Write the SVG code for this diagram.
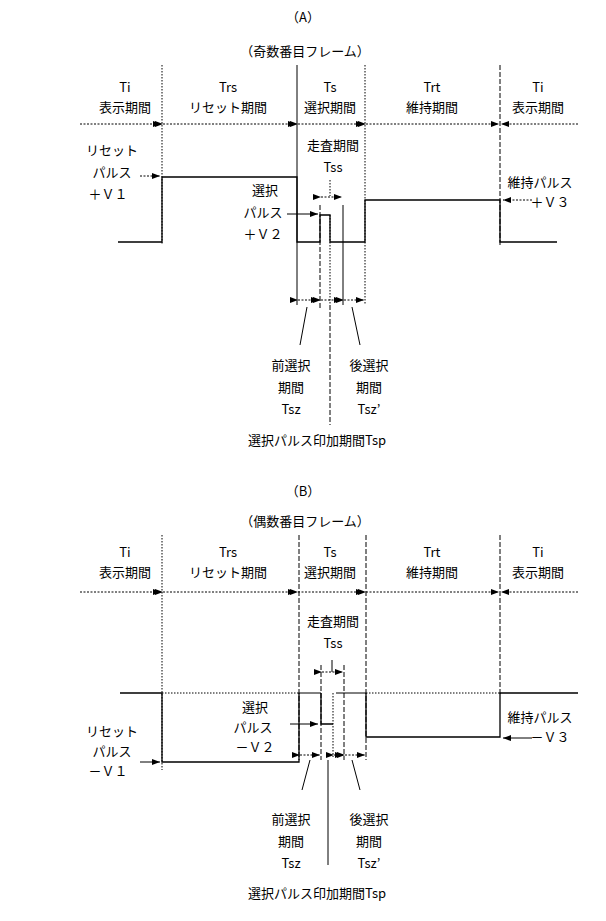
<svg xmlns="http://www.w3.org/2000/svg" width="606" height="921" viewBox="0 0 606 921">
<defs>
<marker id="ar" markerWidth="8" markerHeight="6" refX="8" refY="3" orient="auto" markerUnits="userSpaceOnUse"><path d="M0,0 L8,3 L0,6 Z" fill="#000"/></marker>
</defs>
<style>
text{font-family:"Noto Sans CJK JP","Noto Sans",sans-serif;font-size:13px;fill:#000;text-anchor:middle}
.s{stroke:#000;stroke-width:1.3;fill:none}
.t{stroke:#000;stroke-width:1;fill:none}
.d{stroke:#000;stroke-width:1;stroke-dasharray:1.5 1.5;fill:none}
.da{stroke:#000;stroke-width:1;stroke-dasharray:5 2;fill:none}
.a{stroke:#000;stroke-width:1;stroke-dasharray:2 1.5;fill:none;marker-end:url(#ar);marker-start:url(#ar)}
.a1{stroke:#000;stroke-width:1;stroke-dasharray:2 1.5;fill:none;marker-end:url(#ar)}
.as{stroke:#000;stroke-width:1;fill:none;marker-end:url(#ar)}
</style>
<g id="partA">
<text x="303" y="22">（A）</text>
<text x="305" y="56">（奇数番目フレーム）</text>
<g id="headersA">
<text x="125" y="92">Ti</text><text x="125" y="112">表示期間</text>
<text x="228" y="92">Trs</text><text x="228" y="112">リセット期間</text>
<text x="330" y="92">Ts</text><text x="330" y="112">選択期間</text>
<text x="432" y="92">Trt</text><text x="432" y="112">維持期間</text>
<text x="538" y="92">Ti</text><text x="538" y="112">表示期間</text>
</g>
<g id="connectorsA">
<path class="a1" d="M80,124 H161"/>
<path class="a" d="M163,124 H296"/>
<path class="a" d="M298,124 H364"/>
<path class="a" d="M366,124 H499"/>
<path class="a1" d="M578,124 H501"/>
<path class="d" d="M162,65 V245"/>
<path class="t" d="M297,65 V305"/>
<path class="d" d="M365,65 V305"/>
<path class="da" d="M500,65 V245"/>
<path class="da" d="M320,205 V310"/>
<path class="t" d="M343,205 V305"/>
<path class="d" d="M330,215 V305"/>
<path class="d" d="M330,180 V196"/>
<path class="a" d="M321,197 H342"/>
<path class="a" d="M298,300 H319"/>
<path class="a" d="M321,300 H342"/>
<path class="a" d="M344,300 H364"/>
<path class="t" d="M307,307 L300,345"/>
<path class="da" d="M330,305 V425"/>
<path class="t" d="M352,307 L360,345"/>
<path class="a1" d="M140,176 H160"/>
<path class="as" d="M287,214 H318"/>
<path class="a1" d="M532,200 H503"/>
</g>
<g id="waveA">
<path class="s" d="M118,242 H162 V177 H297 V242 H320 V215 H330 V242 H365 V200 H500 V242 H557"/>
</g>
<g id="labelsA">
<text x="112" y="155">リセット</text><text x="112" y="177">パルス</text><text x="108" y="199">＋Ｖ１</text>
<text x="265" y="195">選択</text><text x="263" y="217">パルス</text><text x="263" y="239">＋Ｖ２</text>
<text x="333" y="150">走査期間</text><text x="333" y="172">Tss</text>
<text x="540" y="187">維持パルス</text><text x="550" y="207">＋Ｖ３</text>
<text x="291" y="370">前選択</text><text x="291" y="392">期間</text><text x="291" y="414">Tsz</text>
<text x="369" y="370">後選択</text><text x="369" y="392">期間</text><text x="369" y="414">Tsz’</text>
<text x="317" y="445">選択パルス印加期間Tsp</text>
</g>
</g>
<g id="partB">
<text x="303" y="496">（B）</text>
<text x="305" y="526">（偶数番目フレーム）</text>
<g id="headersB">
<text x="125" y="557">Ti</text><text x="125" y="577">表示期間</text>
<text x="228" y="557">Trs</text><text x="228" y="577">リセット期間</text>
<text x="330" y="557">Ts</text><text x="330" y="577">選択期間</text>
<text x="432" y="557">Trt</text><text x="432" y="577">維持期間</text>
<text x="538" y="557">Ti</text><text x="538" y="577">表示期間</text>
</g>
<g id="connectorsB">
<path class="a1" d="M80,592 H161"/>
<path class="a" d="M163,592 H296"/>
<path class="a" d="M298,592 H364"/>
<path class="a" d="M366,592 H499"/>
<path class="a1" d="M578,592 H501"/>
<path class="d" d="M162,535 V770"/>
<path class="da" d="M299,535 V760"/>
<path class="da" d="M366,535 V760"/>
<path class="da" d="M500,535 V695"/>
<path class="da" d="M321,665 V760"/>
<path class="da" d="M344,665 V760"/>
<path class="d" d="M333,693 V757"/>
<path class="t" d="M332,660 V672"/>
<path class="a" d="M322,672 H343"/>
<path class="a" d="M300,755 H320"/>
<path class="a" d="M334,755 H343"/>
<path class="a" d="M345,755 H365"/>
<path class="t" d="M310,760 L302,790"/>
<path class="t" d="M328,760 V865"/>
<path class="t" d="M352,760 L360,790"/>
<path class="as" d="M140,762 H160"/>
<path class="as" d="M290,724 H318"/>
<path class="as" d="M532,738 H503"/>
<path class="d" d="M162,693 H297 M366,693 H500"/>
</g>
<g id="waveB">
<path class="s" d="M120,693 H162 V762 H299 V693 M321,693 V724 H333 M366,693 V737 H500 V693 H578"/>
<path class="t" d="M297,693 H321 M336,693 H366"/>
</g>
<g id="labelsB">
<text x="112" y="736">リセット</text><text x="112" y="756">パルス</text><text x="108" y="776">－Ｖ１</text>
<text x="255" y="712">選択</text><text x="253" y="732">パルス</text><text x="255" y="752">－Ｖ２</text>
<text x="333" y="626">走査期間</text><text x="333" y="648">Tss</text>
<text x="540" y="722">維持パルス</text><text x="550" y="742">－Ｖ３</text>
<text x="291" y="824">前選択</text><text x="291" y="846">期間</text><text x="291" y="868">Tsz</text>
<text x="369" y="824">後選択</text><text x="369" y="846">期間</text><text x="369" y="868">Tsz’</text>
<text x="317" y="898">選択パルス印加期間Tsp</text>
</g>
</g>
</svg>
